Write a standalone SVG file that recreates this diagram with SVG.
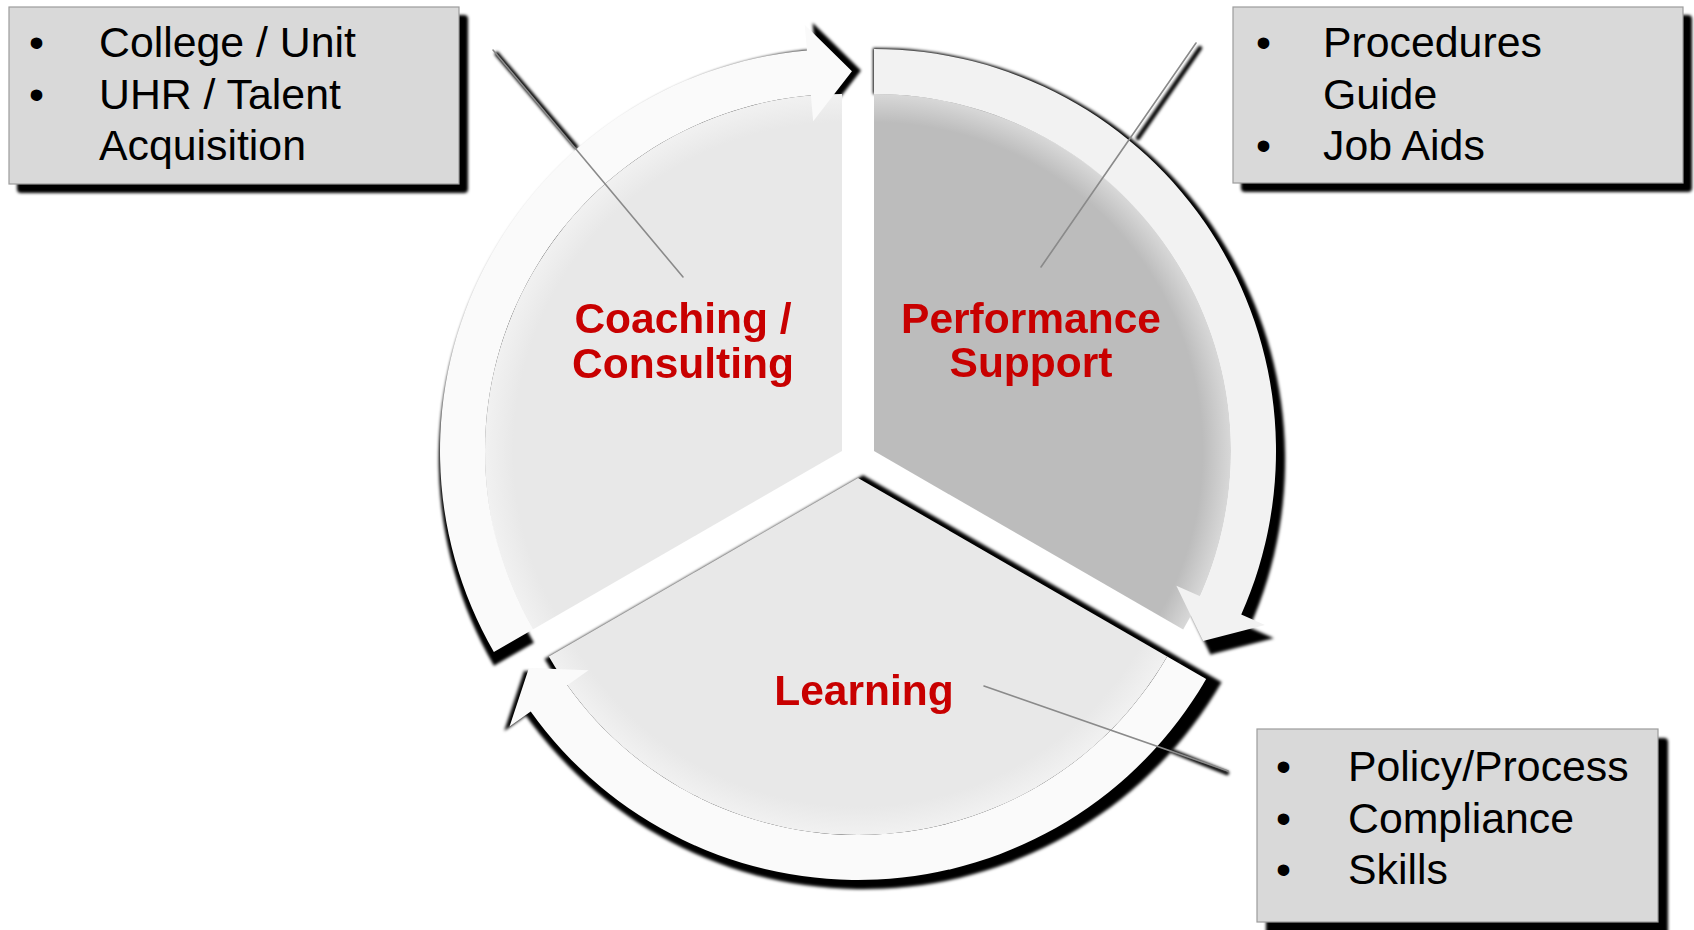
<svg xmlns="http://www.w3.org/2000/svg" xmlns:xlink="http://www.w3.org/1999/xlink" width="1694" height="930" viewBox="0 0 1694 930">
<style>
  .box { fill: #d9d9d9; stroke: #9c9c9c; stroke-width: 1.2; }
  .boxsh { fill: #000; }
  .btxt { font-family: "Liberation Sans", Arial, sans-serif; font-size: 42.8px; fill: #000; }
  .lbl { font-family: "Liberation Sans", Arial, sans-serif; font-size: 42.5px; font-weight: bold; fill: #c80000; text-anchor: middle; }
  .sh { fill: #000; }
  .lead { stroke: #8a8a8a; stroke-width: 1.6; fill: none; stroke-linecap: round; }
  .leadsh { stroke: #000; stroke-width: 4.5; fill: none; stroke-linecap: round; }
</style>
<defs>
  <filter id="blur" x="-10%" y="-10%" width="120%" height="120%">
    <feGaussianBlur stdDeviation="1.5"/>
  </filter>
  <filter id="blur2" x="-10%" y="-10%" width="120%" height="120%">
    <feGaussianBlur stdDeviation="1.8"/>
  </filter>
  <radialGradient id="gC" gradientUnits="userSpaceOnUse" cx="842" cy="451" r="357">
    <stop offset="0" stop-color="#e8e8e8"/>
    <stop offset="0.92" stop-color="#e8e8e8"/>
    <stop offset="1" stop-color="#f1f1f1"/>
  </radialGradient>
  <radialGradient id="gP" gradientUnits="userSpaceOnUse" cx="874" cy="451" r="357">
    <stop offset="0" stop-color="#bcbcbc"/>
    <stop offset="0.92" stop-color="#bcbcbc"/>
    <stop offset="1" stop-color="#d8d8d8"/>
  </radialGradient>
  <radialGradient id="gL" gradientUnits="userSpaceOnUse" cx="858" cy="478" r="357">
    <stop offset="0" stop-color="#e8e8e8"/>
    <stop offset="0.92" stop-color="#e8e8e8"/>
    <stop offset="1" stop-color="#f1f1f1"/>
  </radialGradient>
  <path id="bandC" d="M 493.86 652 A 402 402 0 0 1 806.96 50.53 L 804.7 24.63 L 851.95 71.13 L 813.15 121.26 L 810.88 95.36 A 357 357 0 0 0 532.83 629.5 Z"/>
  <path id="bandP" d="M 874 49 A 402 402 0 0 1 1241.25 614.51 L 1265 625.08 L 1203.09 641 L 1176.38 585.63 L 1200.14 596.21 A 357 357 0 0 0 874 94 Z"/>
  <path id="bandL" d="M 1206.14 679 A 402 402 0 0 1 530.72 711.44 L 509.56 726.54 L 528.91 668 L 588.53 670.21 L 567.36 685.31 A 357 357 0 0 0 1167.17 656.5 Z"/>
  <path id="pieC" d="M 842 451 L 532.83 629.5 A 357 357 0 0 1 842 94 Z"/>
  <path id="pieP" d="M 874 451 L 874 94 A 357 357 0 0 1 1183.17 629.5 Z"/>
  <path id="pieL" d="M 858 478 L 1167.17 656.5 A 357 357 0 0 1 548.83 656.5 Z"/>
</defs>
<rect width="1694" height="930" fill="#ffffff"/>

<g id="box-coaching">
  <rect class="boxsh" x="17" y="15" width="451" height="178" rx="4" filter="url(#blur2)"/>
  <rect class="box" x="9" y="7" width="450" height="177"/>
  <text class="btxt" x="29" y="57">•</text>
  <text class="btxt" x="99" y="57">College / Unit</text>
  <text class="btxt" x="29" y="109">•</text>
  <text class="btxt" x="99" y="109">UHR / Talent</text>
  <text class="btxt" x="99" y="160">Acquisition</text>
</g>

<g id="box-performance">
  <rect class="boxsh" x="1241" y="15" width="451" height="177" rx="4" filter="url(#blur2)"/>
  <rect class="box" x="1233" y="7" width="450" height="176"/>
  <text class="btxt" x="1256" y="57">•</text>
  <text class="btxt" x="1323" y="57">Procedures</text>
  <text class="btxt" x="1323" y="109">Guide</text>
  <text class="btxt" x="1256" y="160">•</text>
  <text class="btxt" x="1323" y="160">Job Aids</text>
</g>

<g id="box-learning">
  <rect class="boxsh" x="1266" y="738" width="402" height="200" rx="4" filter="url(#blur2)"/>
  <rect class="box" x="1257" y="729" width="401" height="193"/>
  <text class="btxt" x="1276" y="781">•</text>
  <text class="btxt" x="1348" y="781">Policy/Process</text>
  <text class="btxt" x="1276" y="833">•</text>
  <text class="btxt" x="1348" y="833">Compliance</text>
  <text class="btxt" x="1276" y="884">•</text>
  <text class="btxt" x="1348" y="884">Skills</text>
</g>

<g id="connector-shadows" filter="url(#blur)">
  <line class="leadsh" x1="497" y1="54" x2="576" y2="147"/>
  <line class="leadsh" x1="1200" y1="48" x2="1138" y2="138"/>
  <line class="leadsh" x1="1172" y1="751" x2="1227" y2="773"/>
</g>

<g id="cycle">
  <g id="shadows" filter="url(#blur)">
    <use xlink:href="#bandC" href="#bandC" class="sh" transform="translate(-12.25 -2.5) scale(1.025)"/>
    <use xlink:href="#bandP" href="#bandP" class="sh" transform="translate(-22.75 -2.5) scale(1.025)"/>
    <g transform="translate(-20.74 -17.2) scale(1.03)">
      <use xlink:href="#bandL" href="#bandL" class="sh"/>
      <use xlink:href="#pieL" href="#pieL" class="sh"/>
    </g>
  </g>

  <g id="node-coaching">
    <use xlink:href="#pieC" href="#pieC" fill="url(#gC)"/>
    <use xlink:href="#bandC" href="#bandC" fill="#fafafa"/>
  </g>
  <g id="node-performance">
    <use xlink:href="#pieP" href="#pieP" fill="url(#gP)"/>
    <use xlink:href="#bandP" href="#bandP" fill="#f2f2f2"/>
  </g>
  <g id="node-learning">
    <use xlink:href="#pieL" href="#pieL" fill="url(#gL)"/>
    <use xlink:href="#bandL" href="#bandL" fill="#fafafa"/>
  </g>
</g>

<g id="connectors">
  <line class="lead" x1="493" y1="50" x2="683" y2="277"/>
  <line class="lead" x1="1196" y1="43" x2="1041" y2="267"/>
  <line class="lead" x1="984" y1="686" x2="1228" y2="771"/>
</g>

<g id="labels">
  <text class="lbl" x="683" y="333">Coaching /</text>
  <text class="lbl" x="683" y="378">Consulting</text>
  <text class="lbl" x="1031" y="333">Performance</text>
  <text class="lbl" x="1031" y="377">Support</text>
  <text class="lbl" x="864" y="705">Learning</text>
</g>
</svg>
